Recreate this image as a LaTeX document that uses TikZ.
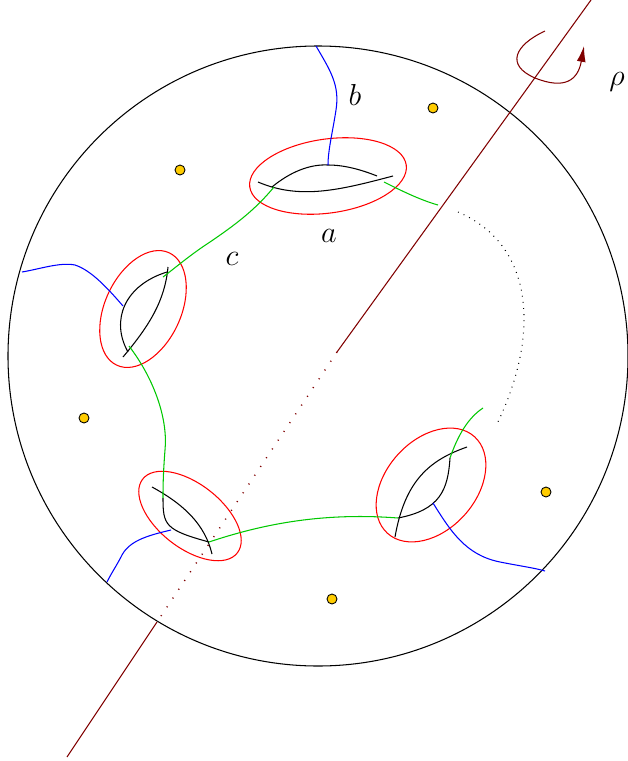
\documentclass[tikz,border=0pt]{standalone}
\usetikzlibrary{arrows.meta}
\definecolor{AxisRed}{RGB}{128, 0, 0}
\definecolor{CurveGreen}{RGB}{0, 200, 0}
\definecolor{PuncGold}{RGB}{255, 204, 0}

\begin{document}
\begin{tikzpicture}[
            x=0.02cm, y=-0.02cm, line width=0.6pt,
            cut/.style={draw=red},
            fold/.style={draw=black},
            acurve/.style={draw=blue},
            ccurve/.style={draw=CurveGreen},
            axis/.style={draw=AxisRed},
            axisdots/.style={draw=AxisRed, line width=0.8pt, dash pattern=on 0.6pt off 5.4pt},
            puncture/.style={circle, draw=black, fill=PuncGold, inner sep=0pt, minimum size=0.2cm, line width=0.5pt},
            lbl/.style={font=\LARGE}
        ]
            \useasboundingbox (0,0) rectangle (628,761);

            % surface
            \draw (318,356) circle (310);
            \foreach \nm/\pos in {p1/{(433,108)}, p2/{(180,170)}, p3/{(84,418)}, p4/{(546,492)}, p5/{(332,599)}}
                \node[puncture] (\nm) at \pos {};

            % handle points
            \coordinate (ta) at (258,182); \coordinate (tb) at (393,176);
            \coordinate (tc) at (272,187); \coordinate (td) at (377,176);
            \coordinate (la) at (168,267); \coordinate (lb) at (123,357);
            \coordinate (lc) at (167,272); \coordinate (ld) at (128,352);
            \coordinate (ba) at (152,487); \coordinate (bb) at (212,554);
            \coordinate (bc) at (163,498); \coordinate (bd) at (209,542);
            \coordinate (ra) at (467,447); \coordinate (rb) at (395,537);
            \coordinate (rc) at (450,458); \coordinate (rd) at (398,518);

            % cuts around the handles
            \draw[cut, rotate around={8:(328,176)}] (328,176) ellipse (79 and 37);
            \draw[cut, rotate around={65:(143,309)}] (143,309) ellipse (62 and 38);
            \draw[cut, rotate around={-38:(190,516)}] (190,516) ellipse (60 and 32);
            \draw[cut, rotate around={48:(431,485)}] (431,485) ellipse (65 and 45);

            % handles
            \draw[fold] (ta) .. controls (300,200) and (340,190) .. (tb);
            \draw[fold] (tc) .. controls (290,172) and (310,164) .. (328,165) .. controls (345,165) and (362,170) .. (td);
            \draw[fold] (la) .. controls (165,300) and (150,325) .. (lb);
            \draw[fold] (lc) .. controls (125,285) and (110,320) .. (ld);
            \draw[fold] (ba) .. controls (185,505) and (205,525) .. (bb);
            \draw[fold] (bc) .. controls (163,525) and (165,530) .. (bd);
            \draw[fold] (ra) .. controls (430,460) and (405,480) .. (rb);
            \draw[fold] (rc) .. controls (448,490) and (440,510) .. (rd);

            % blue curves
            \coordinate (e1) at (316,46);
            \coordinate (e2) at (22,272);
            \coordinate (e3) at (107,582);
            \coordinate (e4) at (545,571);
            \draw[acurve] (e1) .. controls (330,70) and (340,85) .. (336,110) .. controls (333,130) and (328,150) .. (328,165);
            \draw[acurve] (e2) .. controls (40,269) and (60,262) .. (75,265) .. controls (90,270) and (105,285) .. (123,306);
            \draw[acurve] (171,530) .. controls (150,535) and (130,540) .. (122,555) .. controls (117,565) and (112,572) .. (e3);
            \draw[acurve] (433,503) .. controls (450,530) and (465,555) .. (500,562) .. controls (520,566) and (535,568) .. (e4);

            % green curve
            \coordinate (g1) at (438,205);
            \coordinate (g2) at (483,408);
            \draw[ccurve] (384,182) .. controls (400,190) and (420,200) .. (g1);
            \draw[ccurve] (274,187) .. controls (255,210) and (235,225) .. (210,242) .. controls (190,255) and (175,268) .. (163,277);
            \draw[ccurve] (129,346) .. controls (155,380) and (168,420) .. (165,450) .. controls (163,475) and (163,490) .. (bc);
            \draw[ccurve] (bd) .. controls (260,525) and (320,512) .. (rd);
            \draw[ccurve] (rc) .. controls (458,435) and (468,418) .. (g2);
            \draw[line width=0.6pt, dash pattern=on 0.5pt off 3pt] (458,212) .. controls (535,245) and (540,335) .. (497,424);

            % rotation axis
            \coordinate (ax1) at (591,0);
            \coordinate (ax2) at (337,352);
            \coordinate (ax3) at (157,622);
            \coordinate (ax4) at (67,757);
            \draw[axis] (ax1) -- (ax2);
            \draw[axisdots] (ax2) -- (ax3);
            \draw[axis] (ax3) -- (ax4);
            \draw[axis, -{Latex[length=9pt, width=5pt]}] (545,31) .. controls (515,45) and (505,65) .. (535,78) .. controls (565,90) and (578,80) .. (584,46);

            % labels
            \node[lbl] (lblb) at (355,95) {$b$};
            \node[lbl] (lbla) at (329,236) {$a$};
            \node[lbl] (lblc) at (232,259) {$c$};
            \node[lbl] (lblrho) at (617,82) {$\rho$};
        \end{tikzpicture}
\end{document}
